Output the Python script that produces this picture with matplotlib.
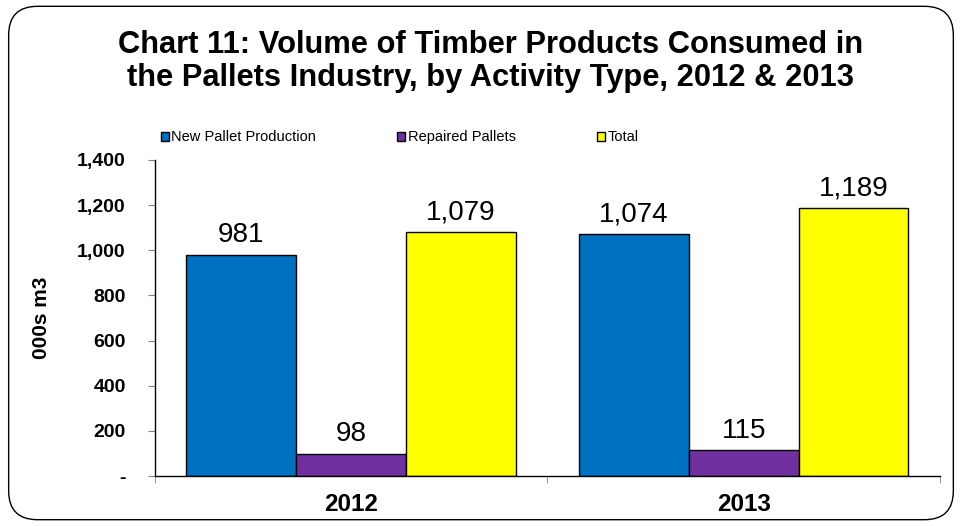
import numpy as np
import matplotlib
matplotlib.use("Agg")
import matplotlib.pyplot as plt
from matplotlib.patches import FancyBboxPatch
from matplotlib.ticker import FuncFormatter

years = ["2012", "2013"]
series_names = ["New Pallet Production", "Repaired Pallets", "Total"]
new_pallets = [981, 1074]
repaired = [98, 115]
total = [1079, 1189]
y_ticks = [0, 200, 400, 600, 800, 1000, 1200, 1400]

colors = ["#0070C0", "#7030A0", "#FFFF00"]

plt.rcParams["font.family"] = ["Liberation Sans", "DejaVu Sans"]

fig = plt.figure(figsize=(9.62, 5.26), dpi=100)

# rounded border round the whole chart
border = FancyBboxPatch((0.009, 0.012), 0.982, 0.976, boxstyle="round,pad=0,rounding_size=0.03",
                        transform=fig.transFigure, facecolor="none", edgecolor="black",
                        linewidth=1.0, mutation_aspect=962 / 526, zorder=0)
fig.patches.append(border)

ax = fig.add_axes([0.161, 0.095, 0.816, 0.601])
ax.set_facecolor("none")

x = np.arange(len(years))
width = 0.28
all_series = [new_pallets, repaired, total]
for i, (vals, name, col) in enumerate(zip(all_series, series_names, colors)):
    pos = x + (i - 1) * width
    bars = ax.bar(pos, vals, width=width, color=col, edgecolor="black", linewidth=1.0,
                  label=name, zorder=2)
    for b, v in zip(bars, vals):
        ax.annotate(f"{v:,}", (b.get_x() + b.get_width() / 2, v), xytext=(0, 9),
                    textcoords="offset points", ha="center", va="baseline", fontsize=20)

ax.set_xlim(-0.5, 1.5)
ax.set_ylim(0, 1400)
ax.set_yticks(y_ticks)
ax.yaxis.set_major_formatter(FuncFormatter(lambda v, p: "-" if v == 0 else f"{int(v):,}"))
for lbl in ax.get_yticklabels():
    lbl.set_fontweight("bold")
ax.tick_params(axis="y", labelsize=14, length=5, color="gray", pad=16)

ax.set_xticks(x)
ax.set_xticklabels(years, fontweight="bold", fontsize=17.5)
ax.set_xticks([-0.5, 0.5, 1.5], minor=True)
ax.tick_params(axis="x", which="major", length=0, pad=12)
ax.tick_params(axis="x", which="minor", length=5, color="gray", direction="out")

for side in ("top", "right"):
    ax.spines[side].set_visible(False)
ax.spines["left"].set_linewidth(1.0)
ax.spines["bottom"].set_linewidth(1.0)

ax.set_ylabel("000s m3", fontweight="bold", fontsize=15)
ax.yaxis.label.set_verticalalignment("center")
ax.yaxis.set_label_coords(-0.144, 0.5)

fig.text(0.51, 0.883, "Chart 11: Volume of Timber Products Consumed in\n"
         "the Pallets Industry, by Activity Type, 2012 & 2013",
         ha="center", va="center", fontsize=22.2, fontweight="bold", linespacing=1.1)

leg = fig.legend(loc="center left", bbox_to_anchor=(0.161, 0.739), ncol=3, frameon=False,
                 fontsize=10.5, handlelength=0.55, handleheight=0.55, handletextpad=0.15,
                 columnspacing=5.6, borderaxespad=0)
for h in leg.legend_handles:
    h.set_linewidth(1.0)

fig.savefig("out.png", dpi=100)
